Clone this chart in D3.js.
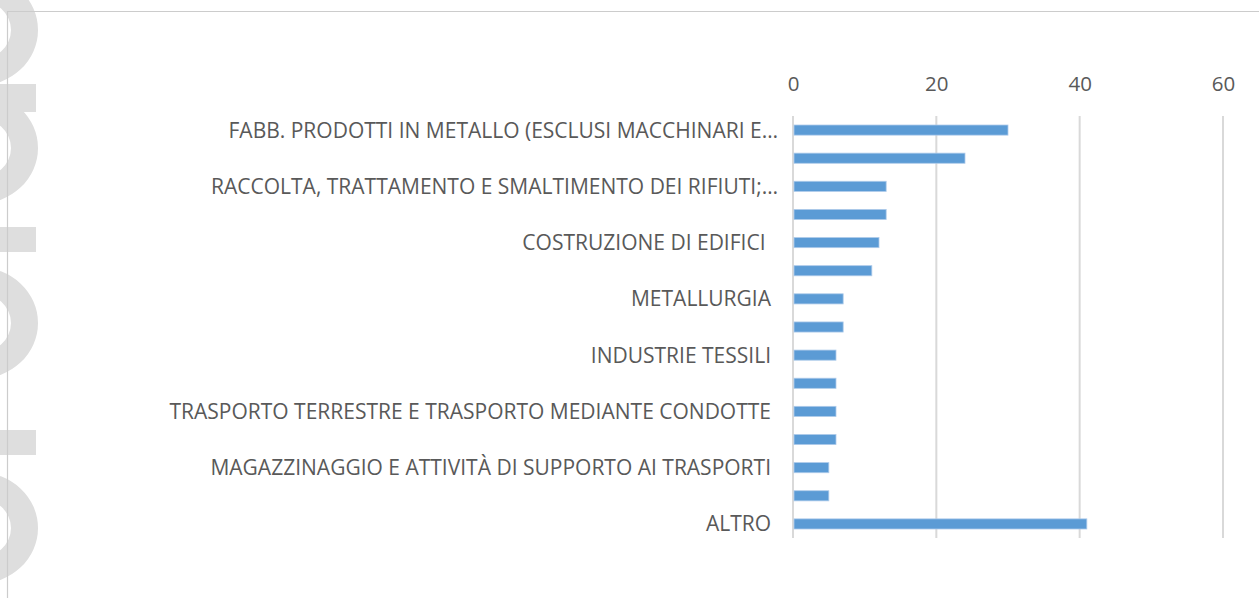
<!DOCTYPE html>
<html>
<head>
<meta charset="utf-8">
<script src="https://cdn.jsdelivr.net/npm/d3@7"></script>
<style>
  html, body { margin: 0; padding: 0; background: #ffffff; }
</style>
</head>
<body>
<div id="chart"></div>
<script>
// categories, top to bottom (only every other label is shown, like Excel does)
const categories = [
  "FABB. PRODOTTI IN METALLO (ESCLUSI MACCHINARI E…",
  "FABBRICAZIONE DI MACCHINARI ED APPARECCHIATURE NCA",
  "RACCOLTA, TRATTAMENTO E SMALTIMENTO DEI RIFIUTI;…",
  "INDUSTRIE ALIMENTARI",
  "COSTRUZIONE DI EDIFICI ",
  "LAVORI DI COSTRUZIONE SPECIALIZZATI",
  "METALLURGIA",
  "FABBRICAZIONE DI ARTICOLI IN GOMMA E MATERIE PLASTICHE",
  "INDUSTRIE TESSILI",
  "COMMERCIO ALL'INGROSSO",
  "TRASPORTO TERRESTRE E TRASPORTO MEDIANTE CONDOTTE",
  "FABBRICAZIONE DI PRODOTTI CHIMICI",
  "MAGAZZINAGGIO E ATTIVITÀ DI SUPPORTO AI TRASPORTI",
  "INDUSTRIA DEL LEGNO",
  "ALTRO"
];
const values = [30, 24, 13, 13, 12, 11, 7, 7, 6, 6, 6, 6, 5, 5, 41];
const xTicks = [0, 20, 40, 60];

const width = 1259;
const height = 598;
const margin = { top: 116, right: 36, bottom: 60, left: 793 };

const svg = d3.select("#chart")
  .append("svg")
  .attr("width", width)
  .attr("height", height)
  .style("display", "block");

// watermark on the left edge: only the feet of big rotated letters show
// rings = round letters (centre y), stems = straight strokes (y from, y to)
const wmRings = [30, 148, 323, 528];
const wmStems = [[84, 112], [227, 252], [430, 455]];

const ring = cy => {
  const cx = -22;
  return `M${cx + 60},${cy} A60,56 0 1,1 ${cx - 60},${cy} A60,56 0 1,1 ${cx + 60},${cy} Z ` +
         `M${cx + 33},${cy} A33,30 0 1,0 ${cx - 33},${cy} A33,30 0 1,0 ${cx + 33},${cy} Z`;
};

const wm = svg.append("g").attr("fill", "#dedede");
wm.selectAll("path")
  .data(wmRings)
  .join("path")
  .attr("fill-rule", "evenodd")
  .attr("d", ring);
wm.selectAll("rect")
  .data(wmStems)
  .join("rect")
  .attr("x", 0)
  .attr("y", d => d[0])
  .attr("width", 36)
  .attr("height", d => d[1] - d[0]);

// chart frame (top and left edge visible)
svg.append("path")
  .attr("d", `M7.5,${height} V11.5 H${width}`)
  .attr("fill", "none")
  .attr("stroke", "#cccccc")
  .attr("stroke-width", 1.2);

// scales
const x = d3.scaleLinear()
  .domain([0, 60])
  .range([margin.left, width - margin.right]);

const y = d3.scaleBand()
  .domain(categories)
  .range([margin.top, height - margin.bottom])
  .paddingInner(0.64)
  .paddingOuter(0.32);

// vertical grid lines
svg.append("g")
  .selectAll("line")
  .data(xTicks)
  .join("line")
  .attr("x1", d => x(d))
  .attr("x2", d => x(d))
  .attr("y1", margin.top)
  .attr("y2", height - margin.bottom)
  .attr("stroke", "#d9d9d9")
  .attr("stroke-width", 2);

// top axis labels
const xAxis = svg.append("g")
  .attr("transform", `translate(0, ${margin.top - 25})`)
  .call(d3.axisTop(x).tickValues(xTicks).tickSize(0).tickPadding(0));
xAxis.select(".domain").remove();
xAxis.selectAll("text")
  .attr("dy", 0)
  .attr("fill", "#595959")
  .style("font-family", "'Open Sans'")
  .style("font-size", "20.5px");

// bars
svg.append("g")
  .selectAll("rect")
  .data(values)
  .join("rect")
  .attr("x", x(0) + 1)
  .attr("y", (d, i) => y(categories[i]))
  .attr("width", d => x(d) - x(0) - 1)
  .attr("height", y.bandwidth())
  .attr("fill", "#5b9bd5")
  .attr("stroke", "#aecbea")
  .attr("stroke-width", 0.8);

// category labels (every other one)
svg.append("g")
  .selectAll("text")
  .data(categories.filter((d, i) => i % 2 === 0))
  .join("text")
  .attr("x", d => x(0) - 22 + (d.endsWith("…") ? 7 : 0))
  .attr("y", d => y(d) + y.bandwidth() / 2)
  .attr("dy", "0.36em")
  .attr("text-anchor", "end")
  .attr("fill", "#595959")
  .style("font-family", "'Open Sans'")
  .style("font-size", "21px")
  .style("white-space", "pre")
  .text(d => d);
</script>
</body>
</html>
